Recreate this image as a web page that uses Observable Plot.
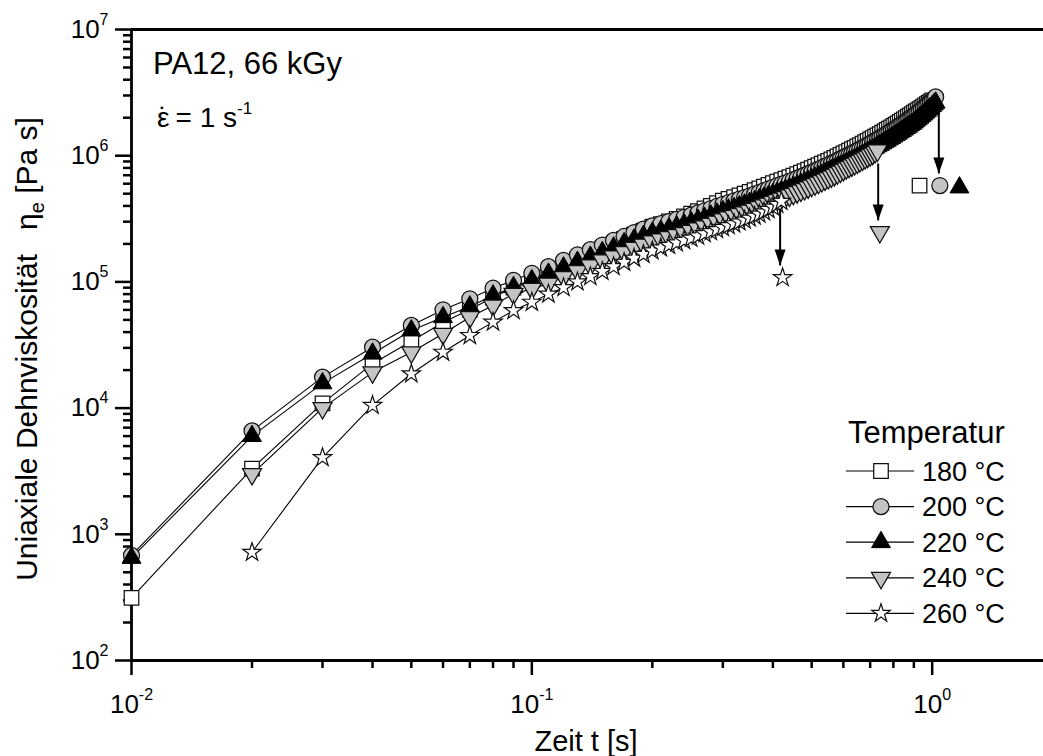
<!DOCTYPE html>
<html><head><meta charset="utf-8">
<script src="https://cdn.jsdelivr.net/npm/d3@7"></script>
<script src="https://cdn.jsdelivr.net/npm/@observablehq/plot@0.6"></script>
<style>html,body{margin:0;padding:0;background:#fff;overflow:hidden}</style>
</head><body><div id="chart"></div>
<script>
// ---------- data ----------
const seriesLabels = ["180 °C", "200 °C", "220 °C", "240 °C", "260 °C"];
const timeStep = 0.01;           // sampling interval of the measurement [s]
const start180 = 0.01, start200 = 0.01, start220 = 0.01, start240 = 0.02, start260 = 0.02;

const values180 = [314, 3320, 10900, 22500, 33900, 47600, 60400, 75200, 90300, 1.04e5,
  1.19e5, 1.35e5, 1.51e5, 1.67e5, 1.84e5, 2.01e5, 2.19e5, 2.37e5, 2.55e5, 2.74e5,
  2.87e5, 3.01e5, 3.16e5, 3.31e5, 3.47e5, 3.64e5, 3.82e5, 4.01e5, 4.20e5, 4.41e5,
  4.55e5, 4.70e5, 4.85e5, 5.00e5, 5.16e5, 5.33e5, 5.50e5, 5.68e5, 5.86e5, 6.05e5,
  6.22e5, 6.39e5, 6.57e5, 6.75e5, 6.94e5, 7.14e5, 7.34e5, 7.54e5, 7.75e5, 7.97e5,
  8.19e5, 8.41e5, 8.64e5, 8.87e5, 9.11e5, 9.36e5, 9.61e5, 9.87e5, 10.14e5, 10.42e5,
  10.69e5, 10.97e5, 11.25e5, 11.54e5, 11.84e5, 12.15e5, 12.46e5, 12.79e5, 13.12e5, 13.45e5,
  13.79e5, 14.13e5, 14.48e5, 14.84e5, 15.21e5, 15.59e5, 15.98e5, 16.38e5, 16.79e5, 17.2e5,
  17.62e5, 18.05e5, 18.49e5, 18.94e5, 19.40e5, 19.88e5, 20.36e5, 20.86e5, 21.37e5, 21.9e5,
  22.4e5, 22.9e5, 23.4e5, 23.9e5, 24.5e5, 25.0e5, 25.6e5, 26.2e5, 26.8e5, 27.4e5];

const values200 = [680, 6600, 17600, 30400, 45200, 60100, 73500, 89100, 1.03e5, 1.17e5,
  1.32e5, 1.48e5, 1.64e5, 1.80e5, 1.96e5, 2.13e5, 2.29e5, 2.46e5, 2.62e5, 2.78e5,
  2.89e5, 3.01e5, 3.13e5, 3.25e5, 3.38e5, 3.52e5, 3.66e5, 3.81e5, 3.96e5, 4.12e5,
  4.25e5, 4.38e5, 4.52e5, 4.66e5, 4.81e5, 4.96e5, 5.12e5, 5.28e5, 5.45e5, 5.62e5,
  5.78e5, 5.94e5, 6.10e5, 6.27e5, 6.45e5, 6.63e5, 6.82e5, 7.01e5, 7.21e5, 7.41e5,
  7.61e5, 7.82e5, 8.03e5, 8.25e5, 8.47e5, 8.70e5, 8.94e5, 9.18e5, 9.43e5, 9.68e5,
  9.93e5, 10.19e5, 10.45e5, 10.72e5, 11.0e5, 11.29e5, 11.58e5, 11.88e5, 12.19e5, 12.5e5,
  12.82e5, 13.15e5, 13.49e5, 13.83e5, 14.19e5, 14.55e5, 14.92e5, 15.31e5, 15.70e5, 16.1e5,
  16.52e5, 16.95e5, 17.39e5, 17.84e5, 18.30e5, 18.78e5, 19.27e5, 19.77e5, 20.28e5, 20.8e5,
  21.38e5, 21.98e5, 22.6e5, 23.23e5, 23.88e5, 24.55e5, 25.24e5, 25.95e5, 26.67e5, 27.4e5,
  28.3e5, 29.2e5];

const values220 = [650, 6000, 15700, 27000, 41200, 52500, 63800, 78000, 90800, 1.03e5,
  1.16e5, 1.30e5, 1.44e5, 1.58e5, 1.72e5, 1.87e5, 2.02e5, 2.16e5, 2.31e5, 2.45e5,
  2.54e5, 2.65e5, 2.75e5, 2.86e5, 2.97e5, 3.10e5, 3.22e5, 3.35e5, 3.48e5, 3.63e5,
  3.74e5, 3.85e5, 3.98e5, 4.10e5, 4.23e5, 4.36e5, 4.51e5, 4.65e5, 4.80e5, 4.95e5,
  5.09e5, 5.23e5, 5.37e5, 5.52e5, 5.68e5, 5.83e5, 6.00e5, 6.17e5, 6.34e5, 6.52e5,
  6.70e5, 6.88e5, 7.07e5, 7.26e5, 7.45e5, 7.66e5, 7.87e5, 8.08e5, 8.30e5, 8.52e5,
  8.74e5, 8.97e5, 9.20e5, 9.43e5, 9.68e5, 9.94e5, 10.19e5, 10.45e5, 10.73e5, 11.0e5,
  11.28e5, 11.57e5, 11.87e5, 12.17e5, 12.49e5, 12.80e5, 13.13e5, 13.47e5, 13.82e5, 14.17e5,
  14.54e5, 14.92e5, 15.30e5, 15.70e5, 16.10e5, 16.53e5, 16.96e5, 17.40e5, 17.85e5, 18.30e5,
  18.9e5, 19.4e5, 20.0e5, 20.6e5, 21.2e5, 21.9e5, 22.5e5, 23.2e5, 23.9e5, 24.7e5,
  25.5e5, 26.3e5];

const values240 = [3000, 10000, 19200, 27700, 38800, 52500, 65000, 80500, 88000,
  0.967e5, 1.09e5, 1.22e5, 1.35e5, 1.48e5, 1.59e5, 1.72e5, 1.86e5, 1.97e5, 2.09e5,
  2.17e5, 2.26e5, 2.35e5, 2.44e5, 2.54e5, 2.65e5, 2.76e5, 2.88e5, 3.00e5, 3.13e5,
  3.24e5, 3.34e5, 3.45e5, 3.56e5, 3.67e5, 3.79e5, 3.91e5, 4.04e5, 4.17e5, 4.31e5,
  4.44e5, 4.57e5, 4.70e5, 4.84e5, 4.99e5, 5.14e5, 5.29e5, 5.44e5, 5.61e5, 5.78e5,
  5.94e5, 6.11e5, 6.29e5, 6.47e5, 6.65e5, 6.84e5, 7.04e5, 7.26e5, 7.48e5, 7.72e5,
  7.95e5, 8.16e5, 8.38e5, 8.60e5, 8.84e5, 9.08e5, 9.32e5, 9.57e5, 9.83e5, 10.1e5,
  10.38e5, 10.68e5, 11.0e5];

const values260 = [720, 4050, 10500, 18700, 27700, 37600, 48000, 59300, 69000,
  0.80e5, 0.90e5, 1.00e5, 1.10e5, 1.21e5, 1.32e5, 1.43e5, 1.54e5, 1.65e5, 1.76e5,
  1.86e5, 1.95e5, 2.04e5, 2.13e5, 2.22e5, 2.31e5, 2.41e5, 2.50e5, 2.60e5, 2.70e5,
  2.79e5, 2.89e5, 2.99e5, 3.09e5, 3.20e5, 3.32e5, 3.45e5, 3.59e5, 3.75e5, 3.92e5,
  4.12e5, 4.35e5];

// samples after rupture (shown offset, below the arrows)
const breakSeries = ["180 °C", "200 °C", "220 °C", "240 °C", "260 °C"];
const breakTimes  = [0.93, 1.045, 1.17, 0.74, 0.423];
const breakValues = [5.8e5, 5.8e5, 5.6e5, 2.48e5, 1.08e5];

// rupture arrows
const arrowTimes = [0.417, 0.733, 1.039];
const arrowFrom  = [3.82e5, 8.67e5, 2.2e6];
const arrowTo    = [1.35e5, 3.07e5, 7.23e5];

const xMajorTicks = [0.01, 0.1, 1];
const xMinorTicks = [0.02, 0.03, 0.04, 0.05, 0.06, 0.07, 0.08, 0.09, 0.2, 0.3, 0.4, 0.5, 0.6, 0.7, 0.8, 0.9];
const yMajorTicks = [1e2, 1e3, 1e4, 1e5, 1e6, 1e7];
const yMinorTicks = [200, 300, 400, 500, 600, 700, 800, 900,
  2e3, 3e3, 4e3, 5e3, 6e3, 7e3, 8e3, 9e3,
  2e4, 3e4, 4e4, 5e4, 6e4, 7e4, 8e4, 9e4,
  2e5, 3e5, 4e5, 5e5, 6e5, 7e5, 8e5, 9e5,
  2e6, 3e6, 4e6, 5e6, 6e6, 7e6, 8e6, 9e6];

// ---------- tables ----------
function rows(label, start, vals) {
  return vals.map((v, i) => ({series: label, t: +(start + i * timeStep).toFixed(2), v}));
}
const d180 = rows(seriesLabels[0], start180, values180);
const d200 = rows(seriesLabels[1], start200, values200);
const d220 = rows(seriesLabels[2], start220, values220);
const d240 = rows(seriesLabels[3], start240, values240);
const d260 = rows(seriesLabels[4], start260, values260);
const breaks = breakSeries.map((s, i) => ({series: s, t: breakTimes[i], v: breakValues[i]}));
const arrows = arrowTimes.map((t, i) => ({t, from: arrowFrom[i], to: arrowTo[i]}));

// ---------- symbols ----------
const gray = "#c4c4c4", ink = "#101010";
const symDown = {draw(c) { c.moveTo(-9.5, -5.5); c.lineTo(9.5, -5.5); c.lineTo(0, 11); c.closePath(); }};
const symHead = {draw(c) { c.moveTo(0, 0); c.lineTo(-5.5, -16); c.lineTo(5.5, -16); c.closePath(); }};
const styles = {
  "180 °C": {symbol: "square", r: 8.2, fill: "#fff", stroke: ink, strokeWidth: 1.25},
  "200 °C": {symbol: "circle", r: 8, fill: gray, stroke: ink, strokeWidth: 1.25},
  "220 °C": {symbol: "triangle", r: 7, fill: "#000", stroke: "#000", strokeWidth: 1},
  "240 °C": {symbol: symDown, fill: gray, stroke: ink, strokeWidth: 1.25},
  "260 °C": {symbol: "star", r: 5.8, fill: "#fff", stroke: ink, strokeWidth: 1.2}
};
const fmt = d => "10^" + Math.round(Math.log10(d));
const tables = [d180, d200, d220, d240, d260];
const FONT = "'Liberation Sans', Arial, Helvetica, sans-serif";

const marks = [
  Plot.ruleY([1e7], {stroke: "#000", strokeWidth: 2.8}),
  Plot.ruleX([0.01], {stroke: "#000", strokeWidth: 2.8}),
  Plot.ruleY([100], {stroke: "#000", strokeWidth: 2.8}),
  Plot.axisX(xMinorTicks, {anchor: "bottom", tickSize: 8, strokeWidth: 2.5, tickFormat: () => "", label: null}),
  Plot.axisX(xMajorTicks, {anchor: "bottom", tickSize: 15, tickPadding: 19, strokeWidth: 2.5, fontSize: 26, tickFormat: fmt, label: null}),
  Plot.axisY(yMinorTicks, {anchor: "left", tickSize: 8, strokeWidth: 2.5, tickFormat: () => "", label: null}),
  Plot.axisY(yMajorTicks, {anchor: "left", tickSize: 16, tickPadding: 7, strokeWidth: 2.5, fontSize: 26, tickFormat: fmt, label: null})
];
for (const d of tables) marks.push(Plot.line(d, {x: "t", y: "v", stroke: "#000", strokeWidth: 1.1}));
tables.forEach((d, i) => marks.push(Plot.dot(d, {x: "t", y: "v", ...styles[seriesLabels[i]]})));
marks.push(Plot.link(arrows, {x1: "t", x2: "t", y1: "from", y2: "to", stroke: "#000", strokeWidth: 2}));
marks.push(Plot.dot(arrows, {x: "t", y: "to", symbol: symHead, fill: "#000", stroke: "none"}));
breaks.forEach(b => marks.push(Plot.dot([b], {x: "t", y: "v", ...styles[b.series]})));

const svg = Plot.plot({
  width: 1043, height: 756,
  marginLeft: 131, marginRight: 0, marginTop: 29, marginBottom: 96,
  x: {type: "log", domain: [0.01, 1.897], axis: null},
  y: {type: "log", domain: [100, 1e7], axis: null},
  style: {fontFamily: FONT, background: "#fff", color: "#000", overflow: "visible"},
  marks
});

// superscript tick labels 10^n
d3.select(svg).selectAll("text").each(function () {
  const m = /^10\^(-?\d+)$/.exec(this.textContent);
  if (!m) return;
  const s = d3.select(this);
  s.text(null);
  s.append("tspan").text("10");
  s.append("tspan").attr("dy", -13).attr("font-size", 16).text(m[1]);
});

const g = d3.select(svg).append("g").attr("font-family", FONT).attr("fill", "#000").attr("text-anchor", "start");

// annotations
g.append("text").attr("x", 153).attr("y", 74).attr("font-size", 31).text("PA12, 66 kGy");
const eps = g.append("text").attr("x", 157).attr("y", 127).attr("font-size", 28);
eps.append("tspan").text("\u03B5");
eps.append("tspan").attr("dx", -11).text("\u02D9");
eps.append("tspan").text(" = 1 s");
eps.append("tspan").attr("dy", -13).attr("font-size", 17).text("-1");

// axis titles
g.append("text").attr("x", 586).attr("y", 751).attr("text-anchor", "middle").attr("font-size", 29).text("Zeit t [s]");
const yt = g.append("text").attr("transform", "translate(37,349) rotate(-90)").attr("text-anchor", "middle").attr("font-size", 30);
yt.append("tspan").text("Uniaxiale Dehnviskosität");
yt.append("tspan").attr("dx", 24).text("\u03B7");
yt.append("tspan").attr("dy", 7).attr("font-size", 20).text("e");
yt.append("tspan").attr("dy", -7).text(" [Pa s]");

// legend
g.append("text").attr("x", 848).attr("y", 443).attr("font-size", 31).text("Temperatur");
seriesLabels.forEach((lab, i) => {
  const cy = 471 + i * 35.6;
  const st = styles[lab];
  g.append("line").attr("x1", 846).attr("x2", 914).attr("y1", cy).attr("y2", cy).attr("stroke", "#000").attr("stroke-width", 1.2);
  const type = typeof st.symbol === "string" ? {square: d3.symbolSquare, circle: d3.symbolCircle, triangle: d3.symbolTriangle, star: d3.symbolStar}[st.symbol] : st.symbol;
  const r = st.r || 3;
  g.append("path").attr("transform", `translate(881,${cy})`).attr("d", d3.symbol(type, r * r * Math.PI)())
    .attr("fill", st.fill).attr("stroke", st.stroke).attr("stroke-width", st.strokeWidth);
  g.append("text").attr("x", 922).attr("y", cy + 9.5).attr("font-size", 27).text(lab);
});

document.getElementById("chart").appendChild(svg);
</script>
</body></html>
